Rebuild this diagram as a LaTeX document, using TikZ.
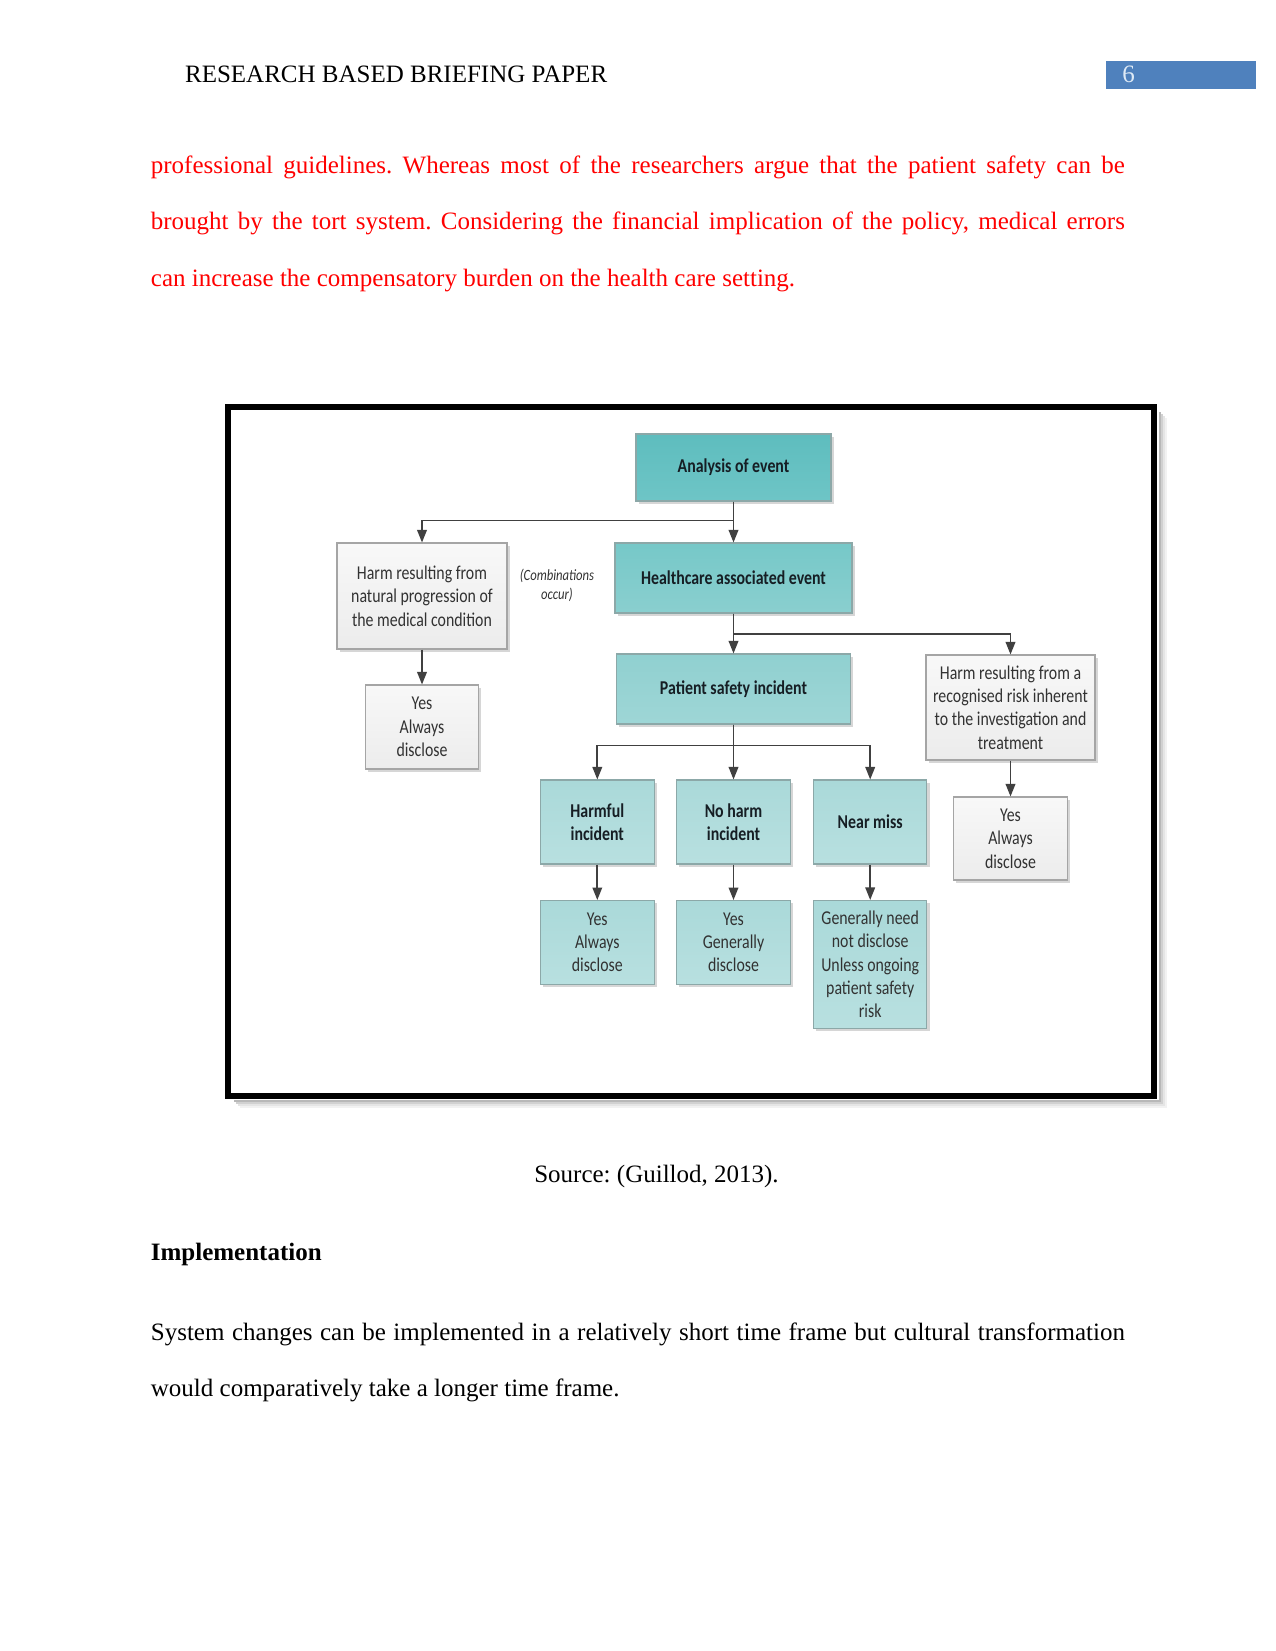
\documentclass[tikz,border=0pt]{standalone}
\usepackage{fontspec}
\setmainfont{Liberation Serif}
\newfontfamily\dfont[FakeStretch=0.81]{Carlito}
\usetikzlibrary{arrows.meta,shadows}
\frenchspacing
\definecolor{redtxt}{RGB}{255,0,0}
\definecolor{pnblue}{RGB}{79,129,189}
\definecolor{pnwhite}{RGB}{222,234,246}
\definecolor{tA1}{RGB}{94,189,190}
\definecolor{tA2}{RGB}{110,197,198}
\definecolor{tB1}{RGB}{118,200,200}
\definecolor{tB2}{RGB}{138,207,207}
\definecolor{tC1}{RGB}{144,208,208}
\definecolor{tC2}{RGB}{158,214,214}
\definecolor{tD1}{RGB}{170,217,217}
\definecolor{tD2}{RGB}{184,224,224}
\definecolor{gr1}{RGB}{248,248,248}
\definecolor{gr2}{RGB}{236,236,236}
\definecolor{tedge}{RGB}{140,168,168}
\definecolor{gedge}{RGB}{165,165,165}
\definecolor{lineclr}{RGB}{64,64,64}
\definecolor{boxtext}{RGB}{22,30,36}
\definecolor{graytext}{RGB}{50,50,50}
\begin{document}
\begin{tikzpicture}[x=0.48pt,y=-0.48pt,
  sz/.style 2 args={minimum width=#1*0.48pt, minimum height=#2*0.48pt},
  body/.style={inner sep=0pt, font=\fontsize{12}{14}\selectfont},
  dbase/.style={inner sep=0pt, align=center, line width=0.5pt,
    drop shadow={shadow xshift=1.3pt, shadow yshift=-1.3pt, fill=black, opacity=0.16}},
  tbox/.style={dbase, draw=tedge, text=boxtext,
    font=\dfont\bfseries\fontsize{9.4}{11.2}\selectfont},
  tboxn/.style={dbase, draw=tedge, text=graytext,
    font=\dfont\fontsize{9.4}{11.2}\selectfont},
  gbox/.style={dbase, draw=gedge, top color=gr1, bottom color=gr2, text=graytext,
    font=\dfont\fontsize{9.4}{11.2}\selectfont},
  arr/.style={draw=lineclr, line width=0.8pt, -{Triangle[length=6pt,width=4.6pt]}},
  shd/.style={line width=2*0.48pt}
]
\useasboundingbox (0,0) rectangle (1275,1651);
\fill[white] (0,0) rectangle (1275,1651);

% header
\node[body, anchor=base west] (hdr) at (184.7,82.7) {RESEARCH BASED BRIEFING PAPER};
\fill[pnblue] (1106,61) rectangle (1256,89);
\node[body, anchor=base west, text=pnwhite] (pg) at (1122,82.7) {6};

% red paragraph
\node[body, anchor=base west, text=redtxt] (r1) at (150.5,173.3)
  {\makebox[467.5pt][s]{professional guidelines. Whereas most of the researchers argue that the patient safety can be}};
\node[body, anchor=base west, text=redtxt] (r2) at (150.5,230)
  {\makebox[467.5pt][s]{brought by the tort system. Considering the financial implication of the policy, medical errors}};
\node[body, anchor=base west, text=redtxt] (r3) at (150.5,286.7)
  {can increase the compensatory burden on the health care setting.};

% frame shadow (right and bottom only)
\draw[shd, black!5]  (1166,418) -- (1166,1107) -- (240,1107);
\draw[shd, black!10] (1164,416) -- (1164,1105) -- (238,1105);
\draw[shd, black!18] (1162,414) -- (1162,1103) -- (236,1103);
\draw[shd, black!28] (1160,412) -- (1160,1101) -- (234,1101);
% frame
\draw[black, line width=6.4*0.48pt] (228,407) rectangle (1154,1096);

% diagram nodes
\node[tbox, sz={195}{67}, top color=tA1, bottom color=tA2] (ana) at (733.5,467.5) {Analysis of event};
\node[tbox, sz={237}{70}, top color=tB1, bottom color=tB2] (hce) at (733.5,578) {Healthcare associated event};
\node[gbox, sz={170}{106}] (harmN) at (422,596) {Harm resulting from\\natural progression of\\the medical condition};
\node[inner sep=0pt, align=center, text=graytext, font=\dfont\itshape\fontsize{7.5}{9.1}\selectfont] (comb) at (557,585) {(Combinations\\occur)};
\node[gbox, sz={113}{84}] (yesL) at (422,727) {Yes\\Always\\disclose};
\node[tbox, sz={234}{70}, top color=tC1, bottom color=tC2] (psi) at (733.5,689) {Patient safety incident};
\node[gbox, sz={169}{105}] (harmR) at (1010.5,707.5) {Harm resulting from a\\recognised risk inherent\\to the investigation and\\treatment};
\node[gbox, sz={113.5}{83}] (yesR) at (1010.5,838.5) {Yes\\Always\\disclose};
\node[tbox, sz={113.5}{84}, top color=tD1, bottom color=tD2] (harmful) at (597.3,822) {Harmful\\incident};
\node[tbox, sz={113.5}{84}, top color=tD1, bottom color=tD2] (noharm) at (733.5,822) {No harm\\incident};
\node[tbox, sz={113.5}{84}, top color=tD1, bottom color=tD2] (near) at (870.2,822) {Near miss};
\node[tboxn, sz={113.5}{83.5}, top color=tD1, bottom color=tD2] (b1) at (597.3,942.3) {Yes\\Always\\disclose};
\node[tboxn, sz={113.5}{83.5}, top color=tD1, bottom color=tD2] (b2) at (733.5,942.3) {Yes\\Generally\\disclose};
\node[tboxn, sz={113.5}{128}, top color=tD1, bottom color=tD2] (b3) at (870.2,964.5) {Generally need\\not disclose\\Unless ongoing\\patient safety\\risk};

% junction coordinates
\coordinate (j1) at (733.5,520.5);
\coordinate (j2) at (733.5,634);
\coordinate (j3) at (733.5,745.5);

% connectors
\draw[arr] (ana.south) -- (hce.north);
\draw[arr] (ana.south) -- (j1) -| (harmN.north);
\draw[arr] (hce.south) -- (psi.north);
\draw[arr] (hce.south) -- (j2) -| (harmR.north);
\draw[arr] (harmN.south) -- (yesL.north);
\draw[arr] (harmR.south) -- (yesR.north);
\draw[arr] (psi.south) -- (noharm.north);
\draw[arr] (psi.south) -- (j3) -| (harmful.north);
\draw[arr] (psi.south) -- (j3) -| (near.north);
\draw[arr] (harmful.south) -- (b1.north);
\draw[arr] (noharm.south) -- (b2.north);
\draw[arr] (near.south) -- (b3.north);

% text below
\node[body, anchor=base] (src) at (656.5,1182.7) {Source: (Guillod, 2013).};
\node[body, anchor=base west] (impl) at (150.5,1260.7) {\bfseries Implementation};
\node[body, anchor=base west] (s1) at (150.5,1340)
  {\makebox[467.5pt][s]{System changes can be implemented in a relatively short time frame but cultural transformation}};
\node[body, anchor=base west] (s2) at (150.5,1396.7) {would comparatively take a longer time frame.};
\end{tikzpicture}
\end{document}
